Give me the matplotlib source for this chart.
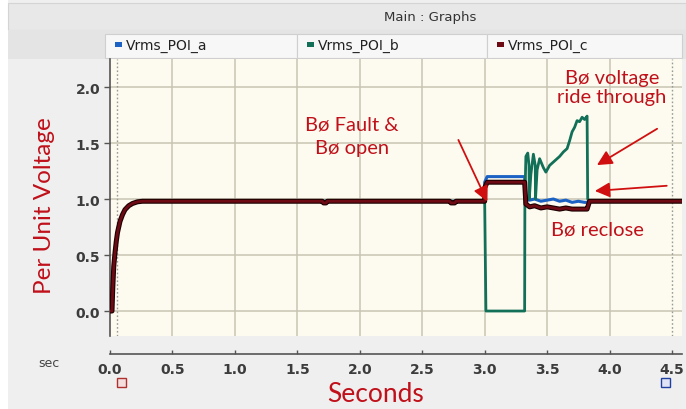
import matplotlib
matplotlib.use("Agg")
import matplotlib.pyplot as plt
import matplotlib.patheffects as pe
from matplotlib.patches import Rectangle

# ---------------- data ----------------
series_names = ["Vrms_POI_a", "Vrms_POI_b", "Vrms_POI_c"]
series_colors = ["#1b62c4", "#127058", "#6e0a14"]

t_start = [0.0, 0.016, 0.022, 0.03, 0.04, 0.05, 0.06, 0.08, 0.10, 0.12, 0.15, 0.18, 0.22, 0.26, 0.30]
v_start = [0.0, 0.0, 0.20, 0.40, 0.52, 0.62, 0.70, 0.80, 0.86, 0.905, 0.94, 0.96, 0.975, 0.98, 0.98]

t_a = t_start + [3.0, 3.0, 3.02, 3.32, 3.33, 3.36, 3.40, 3.45, 3.50, 3.55, 3.60, 3.65, 3.70, 3.75, 3.80, 3.825, 3.83, 4.6]
v_a = v_start + [0.98, 1.15, 1.20, 1.20, 1.00, 0.99, 1.00, 0.98, 0.99, 1.00, 0.98, 0.99, 0.97, 0.98, 0.97, 0.97, 0.98, 0.98]

t_b = t_start + [3.0, 3.01, 3.32, 3.322, 3.33, 3.345, 3.355, 3.357, 3.37, 3.39, 3.405, 3.407, 3.42, 3.44, 3.47, 3.49,
                 3.52, 3.56, 3.60, 3.63, 3.66, 3.68, 3.70, 3.72, 3.74, 3.76, 3.78, 3.80, 3.82, 3.825, 3.84, 4.6]
v_b = v_start + [0.98, 0.0, 0.0, 1.00, 1.38, 1.41, 1.30, 1.00, 1.22, 1.40, 1.30, 1.00, 1.26, 1.36, 1.28, 1.24,
                 1.30, 1.34, 1.38, 1.42, 1.45, 1.52, 1.60, 1.64, 1.70, 1.69, 1.73, 1.71, 1.74, 1.00, 0.98, 0.98]

t_c = t_start + [1.70, 1.71, 1.73, 1.74, 2.72, 2.73, 2.76, 2.77, 3.0, 3.0, 3.02, 3.32, 3.33, 3.36, 3.40, 3.45,
                 3.50, 3.55, 3.60, 3.65, 3.70, 3.75, 3.80, 3.82, 3.84, 4.6]
v_c = v_start + [0.98, 0.965, 0.965, 0.98, 0.98, 0.965, 0.965, 0.98, 0.98, 1.10, 1.15, 1.15, 0.955, 0.93, 0.94, 0.92,
                 0.93, 0.92, 0.91, 0.92, 0.91, 0.91, 0.91, 0.91, 0.98, 0.98]

x_ticks = [0.0, 0.5, 1.0, 1.5, 2.0, 2.5, 3.0, 3.5, 4.0, 4.5]
x_tick_labels = ["0.0", "0.5", "1.0", "1.5", "2.0", "2.5", "3.0", "3.5", "4.0", "4.5"]
y_ticks = [0.0, 0.5, 1.0, 1.5, 2.0]
y_tick_labels = ["0.0", "0.5", "1.0", "1.5", "2.0"]

# ---------------- figure ----------------
W, H = 686, 410
fig = plt.figure(figsize=(W / 100, H / 100), dpi=100)
fig.patch.set_facecolor("#efefef")

bg = fig.add_axes([0, 0, 1, 1], zorder=0)
bg.set_xlim(0, W)
bg.set_ylim(H, 0)
bg.axis("off")

# outer white margin on the left
bg.add_patch(Rectangle((0, 0), 8, H, color="white", lw=0))
# title bar
bg.add_patch(Rectangle((8, 4), W - 8, 27, facecolor="#e8e8e8", edgecolor="#d4d4d4", lw=0.8))
bg.text(430, 18, "Main : Graphs", ha="center", va="center", fontsize=9.5, color="#333333")
# legend row
bg.add_patch(Rectangle((8, 31), W - 8, 29, facecolor="#e4e4e4", edgecolor="none"))
cells = [(105, 297), (297, 487), (487, 682)]
for (x0, x1), name, col in zip(cells, series_names, series_colors):
    bg.add_patch(Rectangle((x0, 35), x1 - x0, 24, facecolor="#f7f7f7", edgecolor="#cfcfcf", lw=0.8))
    bg.add_patch(Rectangle((x0 + 10, 43), 7, 5, facecolor=col, edgecolor="none"))
    bg.text(x0 + 21, 46, name, ha="left", va="center", fontsize=10, color="#222222")

# axis labels
bg.text(45, 206, "Per Unit Voltage", rotation=90, ha="center", va="center",
        fontsize=17.5, color="#c0101a", family="Lato")
bg.text(38, 364, "sec", ha="left", va="center", fontsize=9, color="#444444")
bg.text(376, 395, "Seconds", ha="center", va="center", fontsize=19, color="#c0101a", family="Lato")

# small cursor icons on time axis
bg.add_patch(Rectangle((117, 379), 9, 9, facecolor="#f4dede", edgecolor="#b03030", lw=1))
bg.add_patch(Rectangle((661, 379), 9, 9, facecolor="#dfe3f5", edgecolor="#2040a0", lw=1))

# ---------------- main axes ----------------
ax = fig.add_axes([110 / W, (H - 337) / H, (682 - 110) / W, (337 - 60) / H], zorder=1)
ax.set_facecolor("#fdfbef")
ax.set_xlim(0, 4.58)
ax.set_ylim(-0.223, 2.25)

for xv in x_ticks[1:-1]:
    ax.axvline(xv, color="#c8c5b3", lw=1.1, zorder=1)
for yv in y_ticks:
    ax.axhline(yv, color="#c8c5b3", lw=1.1, zorder=1)
# cursor lines
ax.axvline(0.055, color="#9a9a9a", lw=1, ls=(0, (1.2, 1.6)), zorder=1.5)
ax.axvline(4.50, color="#9a9a9a", lw=1, ls=(0, (1.2, 1.6)), zorder=1.5)

ax.plot(t_a, v_a, color=series_colors[0], lw=2.2, zorder=3)
ax.plot(t_b, v_b, color=series_colors[1], lw=2.0, zorder=3.5)
ax.plot(t_c, v_c, color=series_colors[2], lw=2.0, zorder=4,
        path_effects=[pe.Stroke(linewidth=3.6, foreground="#1a0000"), pe.Normal()])

for s in ["top", "right"]:
    ax.spines[s].set_visible(False)
ax.spines["left"].set_color("#555555")
ax.spines["left"].set_linewidth(1.2)
ax.spines["bottom"].set_position(("outward", 13))
ax.spines["bottom"].set_color("#555555")
ax.spines["bottom"].set_linewidth(1.2)

ax.set_xticks(x_ticks)
ax.set_xticklabels(x_tick_labels)
ax.set_yticks(y_ticks)
ax.set_yticklabels(y_tick_labels)
ax.tick_params(axis="x", direction="in", length=3, width=1, color="#555555", pad=6,
               labelsize=10, labelcolor="#3c3c3c")
ax.tick_params(axis="y", direction="out", length=4, width=1, color="#555555", pad=3,
               labelsize=10, labelcolor="#3c3c3c")
for lab in ax.get_xticklabels() + ax.get_yticklabels():
    lab.set_fontweight("bold")

# ---------------- annotations ----------------
red = "#c0101a"
ax.text(1.94, 1.565, "Bø Fault &\nBø open", ha="center", va="center", fontsize=14.5,
        color=red, family="Lato", linespacing=1.45, zorder=6)
ax.text(4.02, 2.0, "Bø voltage\nride through", ha="center", va="center", fontsize=14.5,
        color=red, family="Lato", linespacing=1.2, zorder=6)
ax.text(3.90, 0.73, "Bø reclose", ha="center", va="center", fontsize=14.5,
        color=red, family="Lato", zorder=6)

arrow_kw = dict(arrowstyle="-|>,head_length=0.9,head_width=0.45", color="#d01010", lw=1.3)
ax.annotate("", xy=(3.03, 0.955), xytext=(2.78, 1.55), arrowprops=arrow_kw, zorder=7)
ax.annotate("", xy=(3.88, 1.29), xytext=(4.40, 1.64), arrowprops=arrow_kw, zorder=7)
ax.annotate("", xy=(3.86, 1.07), xytext=(4.48, 1.12), arrowprops=arrow_kw, zorder=7)

fig.savefig("out.png", dpi=100, facecolor=fig.get_facecolor())
